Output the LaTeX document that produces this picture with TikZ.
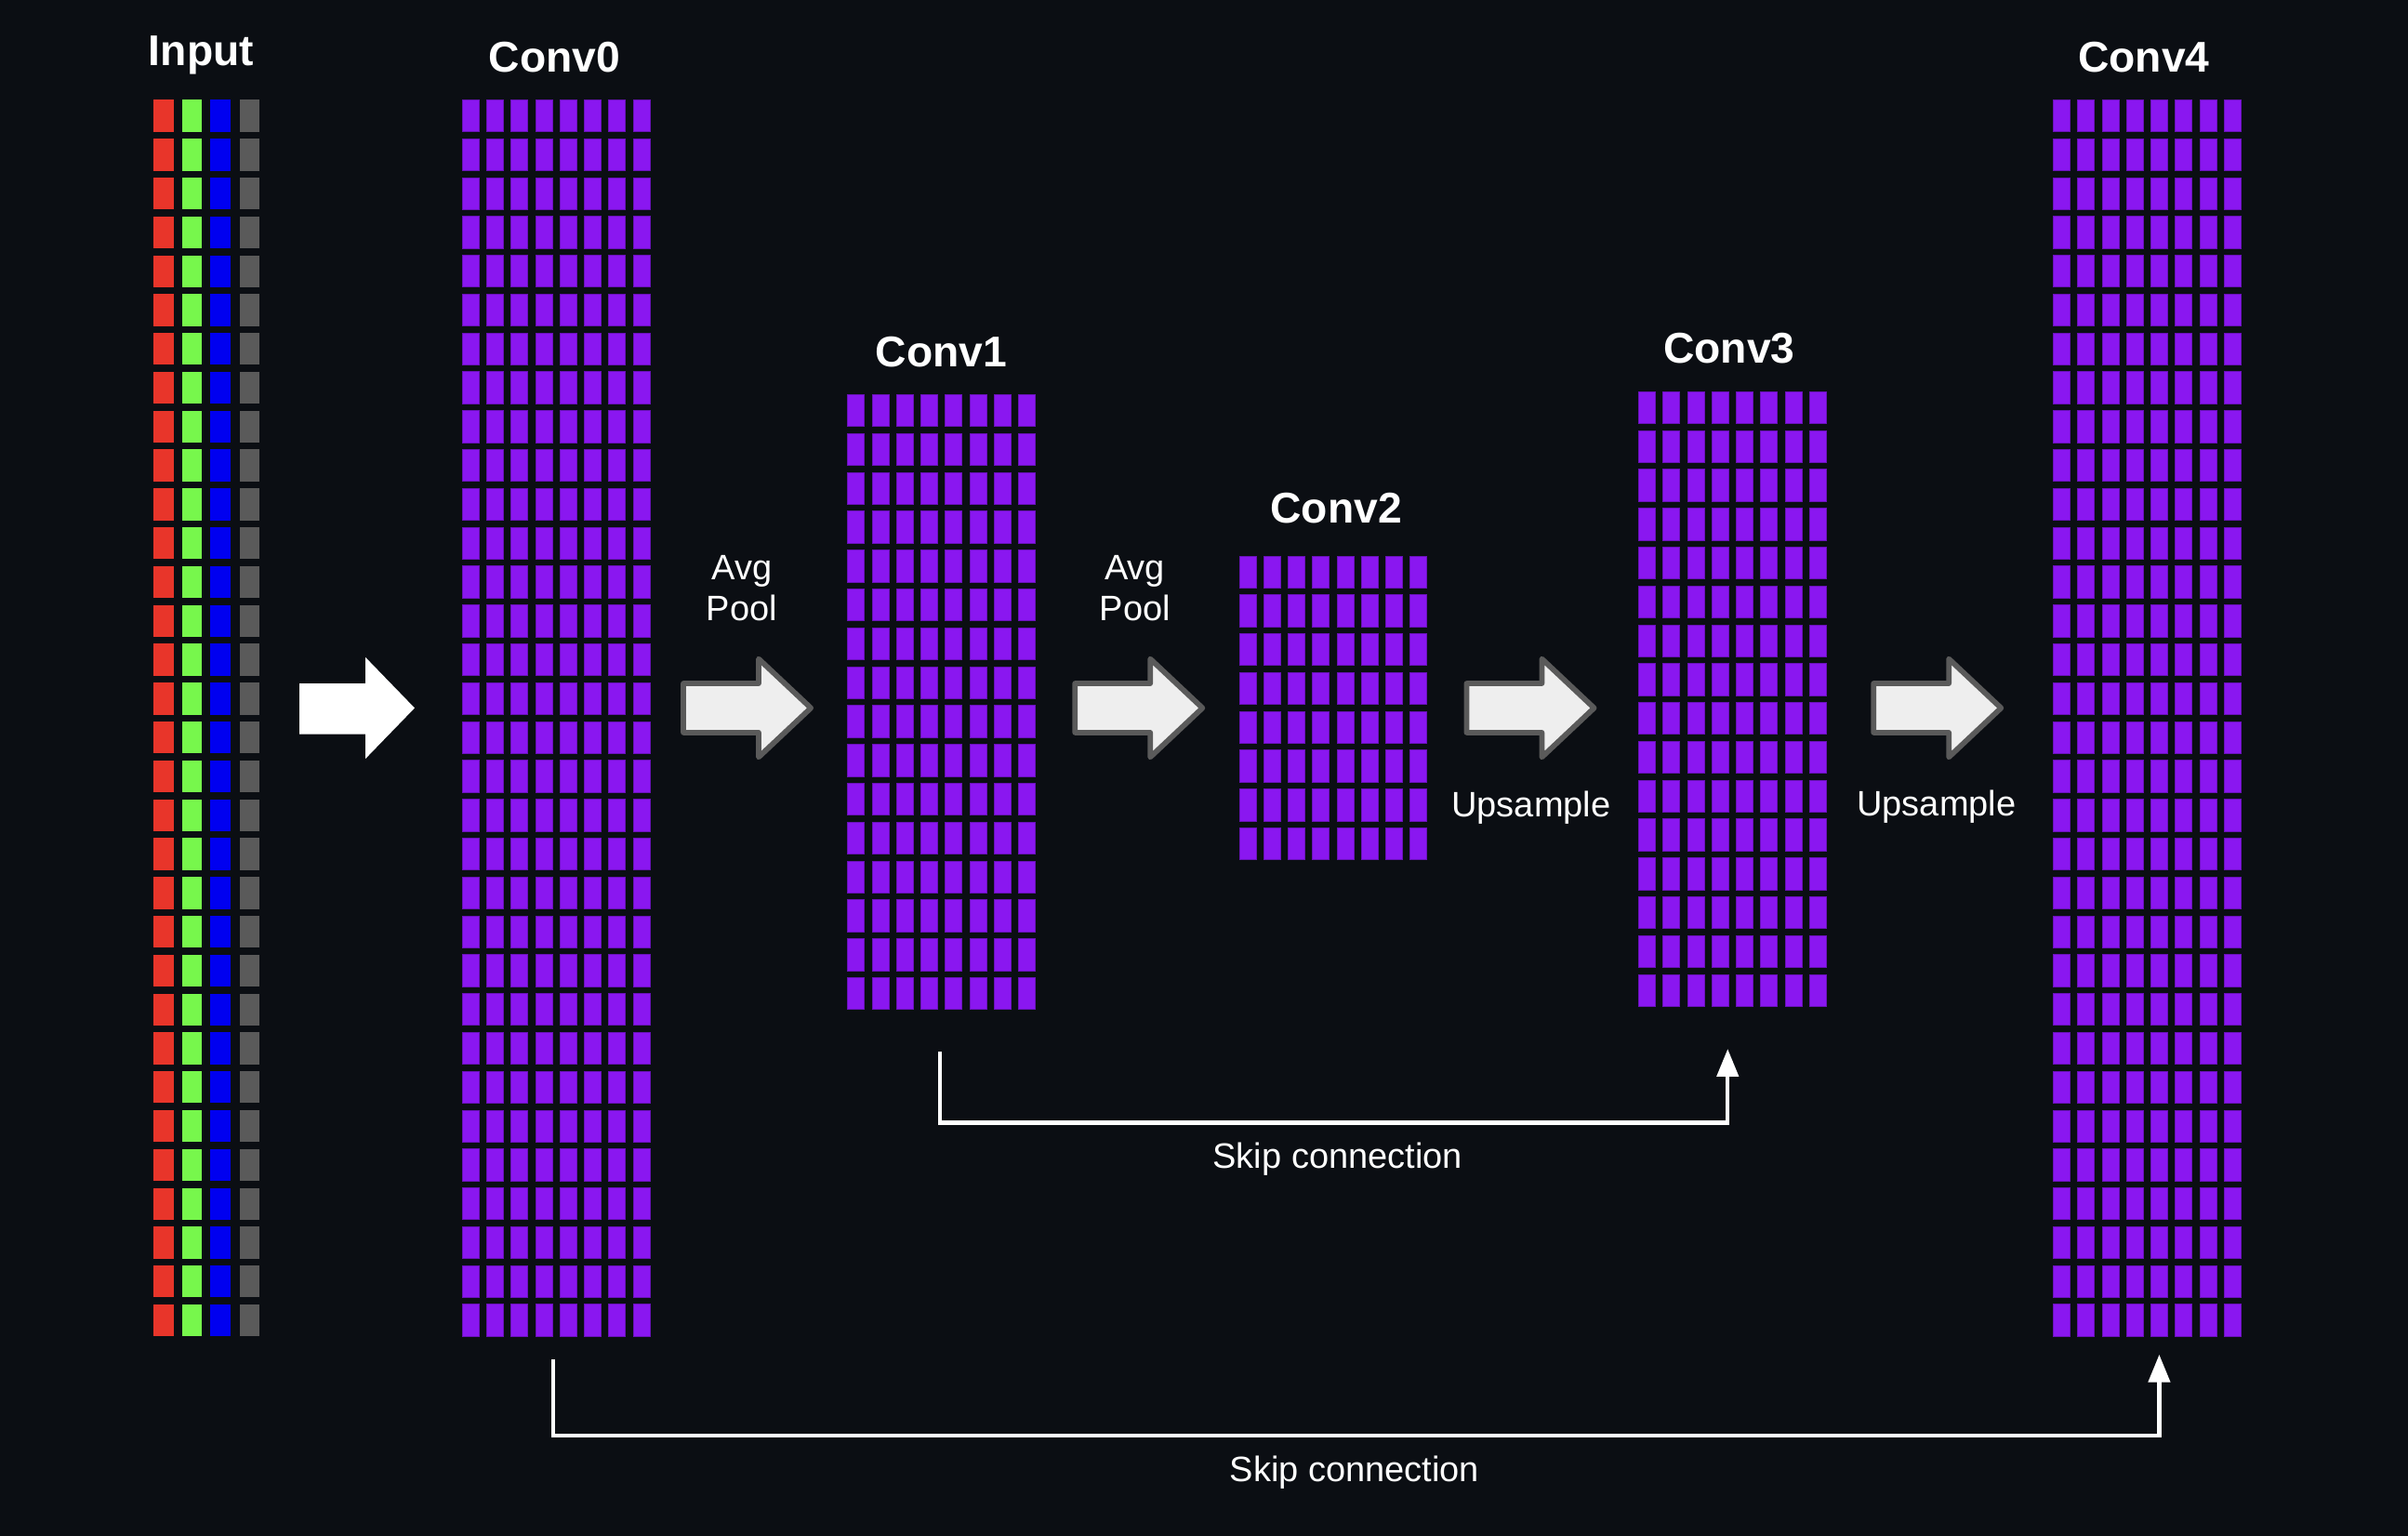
\documentclass[tikz,border=0pt]{standalone}
\usepackage{fontspec}
\setmainfont{Liberation Sans}
\usetikzlibrary{arrows.meta}
\definecolor{bg}{HTML}{0B0E13}
\definecolor{pur}{HTML}{8A17F0}
\definecolor{purd}{HTML}{6A12BA}
\definecolor{cr}{HTML}{E8352A}
\definecolor{cg}{HTML}{77F74C}
\definecolor{cb}{HTML}{0000F0}
\definecolor{cgr}{HTML}{5A5A5A}
\definecolor{afill}{HTML}{EEEEEE}
\newcommand{\mygrid}[4]{% x, top y, rows, name
  \foreach \c in {0,...,7}{\foreach \r in {1,...,#3}{
    \fill[pur,draw=purd,line width=0.5pt] ({#1+\c*15.9},{#2+(\r-1)*25.3}) rectangle ++(10.9,20.8);}}
  \coordinate (#4-n) at ({#1+61.5},#2);
  \coordinate (#4-s) at ({#1+61.5},{#2+(#3-1)*25.3+20.8});}
\tikzset{
  title/.style={text=white,font=\bfseries\fontsize{28}{30}\selectfont},
  lab/.style={text=white,font=\fontsize{23}{27}\selectfont,align=center},
  garrow/.style={fill=afill,draw=cgr,line width=3.5pt,line join=round},
  skip/.style={draw=white,line width=2.5pt,-{Triangle[length=18pt,width=14pt]}}
}
\begin{document}
\begin{tikzpicture}[x=1pt,y=-1pt]
\fill[bg] (0,0) rectangle (1568,1000);
\useasboundingbox (0,0) rectangle (1568,1000);
% input
\foreach \r in {1,...,32}{
  \pgfmathsetmacro\yy{65+(\r-1)*25.3}
  \fill[cr] (100,\yy) rectangle ++(13,20.8);
  \fill[cg] (118.5,\yy) rectangle ++(13,20.8);
  \fill[cb] (137,\yy) rectangle ++(13,20.8);
  \fill[cgr] (156,\yy) rectangle ++(13,20.8);
}
\mygrid{301}{65}{32}{c0}
\mygrid{552}{257}{16}{c1}
\mygrid{807}{362}{8}{c2}
\mygrid{1067}{255}{16}{c3}
\mygrid{1337}{65}{32}{c4}
\node[title] (tin) at (131,36) {Input};
\node[title] (t0) at (361,37) {Conv0};
\node[title] (t1) at (613,229) {Conv1};
\node[title] (t2) at (870,331) {Conv2};
\node[title] (t3) at (1126,227) {Conv3};
\node[title] (t4) at (1396,37) {Conv4};
% big white arrow
\fill[white] (195,445) -- (238,445) -- (238,428) -- (270,461) -- (238,494) -- (238,478) -- (195,478) -- cycle;
\foreach \x in {445,700,955,1220}{
  \draw[garrow] (\x,445) -- (\x+49,445) -- (\x+49,429) -- (\x+83,461) -- (\x+49,493) -- (\x+49,477) -- (\x,477) -- cycle;
}
\node[lab] (l1) at (483,383) {Avg\\Pool};
\node[lab] (l2) at (739,383) {Avg\\Pool};
\node[lab] (l3) at (997,526) {Upsample};
\node[lab] (l4) at (1261,525) {Upsample};
% skip connections
\coordinate (s1a) at (612,685);
\coordinate (s1b) at (1125,683);
\draw[skip] (s1a) -- (612,731) -- (1125,731) -- (s1b);
\node[lab] (k1) at (871,755) {Skip connection};
\coordinate (s0a) at (360,885);
\coordinate (s0b) at (1406,882);
\draw[skip] (s0a) -- (360,935) -- (1406,935) -- (s0b);
\node[lab] (k0) at (882,959) {Skip connection};
\end{tikzpicture}
\end{document}
